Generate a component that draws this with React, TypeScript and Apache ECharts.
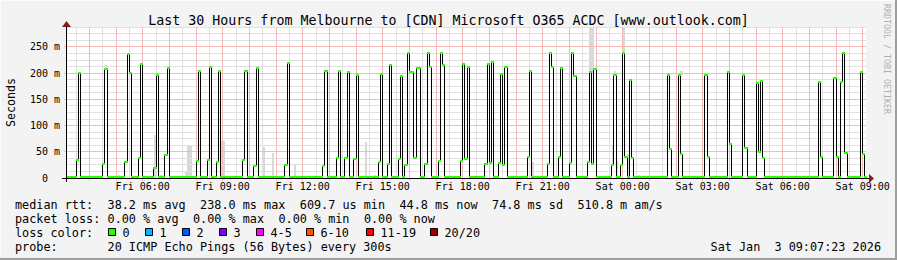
import React, { useEffect, useRef } from "react";
import * as echarts from "echarts";

// ---------- data ----------
const TITLE = "Last 30 Hours from Melbourne to [CDN] Microsoft O365 ACDC [www.outlook.com]";
const RANGE_START = "Fri 03:07:23";
const RANGE_END = "Sat 09:07:23";
const FIRST_STEP = "Fri 03:10";
const STEP_MINUTES = 5;
const STEP_COUNT = 360;
const BASELINE_MS = 1; // median between the spikes (ms)

const X_LABELS = ["Fri 06:00", "Fri 09:00", "Fri 12:00", "Fri 15:00", "Fri 18:00", "Fri 21:00", "Sat 00:00", "Sat 03:00", "Sat 06:00", "Sat 09:00"];
const Y_LABELS = [0, 50, 100, 150, 200, 250];
const Y_MAX = 288;

// start of each spike and the medians (ms) of its consecutive 5-minute steps
const spikeStarts = [
  "Fri 03:30", "Fri 04:30", "Fri 05:20", "Fri 05:50", "Fri 06:25", "Fri 06:50", "Fri 08:00", "Fri 08:25", "Fri 08:45", "Fri 09:45",
  "Fri 10:10", "Fri 11:20", "Fri 12:45", "Fri 13:15", "Fri 13:35", "Fri 13:55", "Fri 14:50", "Fri 15:10", "Fri 15:35", "Fri 15:50",
  "Fri 16:35", "Fri 17:05", "Fri 17:55", "Fri 18:50", "Fri 19:20", "Fri 20:25", "Fri 21:10", "Fri 21:35", "Fri 22:00", "Fri 22:40",
  "Fri 23:35", "Fri 23:55", "Sat 01:40", "Sat 02:05", "Sat 03:05", "Sat 03:55", "Sat 04:30", "Sat 05:00", "Sat 07:20", "Sat 07:55",
  "Sat 08:10", "Sat 08:55",
];
const spikeMedians = [
  [34, 201], [27, 207], [31, 237, 201], [38, 217], [19, 196], [43, 209], [32, 205], [35, 211], [30, 205], [34, 205],
  [22, 209], [25, 220], [22, 205], [39, 205], [39, 203], [37, 196], [30, 198], [26, 216], [36, 194], [25, 238, 202, 202, 39, 210, 210],
  [27, 238, 211], [33, 238, 215], [32, 218, 36, 211], [27, 217, 29, 221], [28, 198, 25, 211], [40, 205], [27, 238, 211], [40, 209], [29, 238, 194], [30, 202, 27, 207],
  [24, 196], [24, 238, 40, 1, 186, 39], [196, 55], [196, 46], [196, 41], [203, 64], [196, 58], [181, 49, 185, 39], [183, 41], [191, 41],
  [184, 238, 47], [203, 45],
];

// grey "smoke" (spread of the individual pings)
const smokeStarts = [
  "Fri 04:35", "Fri 05:05", "Fri 06:25", "Fri 06:40", "Fri 07:35", "Fri 07:40", "Fri 08:55", "Fri 10:30", "Fri 10:50", "Fri 11:40",
  "Fri 14:20", "Fri 14:40", "Fri 20:35", "Fri 22:45", "Fri 23:35", "Fri 23:40", "Fri 23:45", "Sat 00:00", "Sat 00:10", "Sat 00:35",
  "Sat 02:10", "Sat 04:10", "Sat 08:35",
];
const smokeSteps = [1, 1, 1, 1, 3, 2, 2, 1, 1, 1, 1, 1, 1, 2, 1, 1, 1, 1, 1, 1, 1, 1, 1];
const smokeLow = [207, 0, 0, 0, 0, 0, 0, 0, 0, 0, 0, 0, 0, 200, 24, 196, 0, 238, 0, 0, 196, 0, 0];
const smokeHigh = [215, 6, 82, 6, 12, 61, 71, 60, 48, 24, 68, 6, 30, 288, 61, 205, 32, 288, 45, 5, 205, 4, 4];

// legend
const statsLine = ["median rtt:", "38.2 ms avg", "238.0 ms max", "609.7 us min", "44.8 ms now", "74.8 ms sd", "510.8 m am/s"];
const statsCols = [0, 13, 26, 40, 54, 67, 79];
const lossLine = ["packet loss:", "0.00 % avg", "0.00 % max", "0.00 % min", "0.00 % now"];
const lossCols = [0, 13, 25, 37, 49];
const lossLabels = ["0", "1", "2", "3", "4-5", "6-10", "11-19", "20/20"];
const lossColors = ["#26ff00", "#00b8ff", "#0059ff", "#7e00ff", "#ff00ff", "#ff5500", "#ff0000", "#a00000"];
const lossBoxX = [108.5, 145.5, 182.5, 219.5, 256.5, 306.5, 366.5, 430.5];
const probeText = "20 ICMP Echo Pings (56 Bytes) every 300s";
const stampText = "Sat Jan  3 09:07:23 2026";

// ---------- helpers ----------
const DAY: Record<string, number> = { Fri: 0, Sat: 1440 };
function toMin(s: string): number {
  const [d, hms] = s.split(" ");
  const [h, m, sec] = hms.split(":").map(Number);
  return DAY[d] + h * 60 + m + (sec || 0) / 60;
}
const pad = (n: number) => (n < 10 ? "0" + n : "" + n);
function fmtTick(v: number): string {
  const day = v < 1440 ? "Fri" : "Sat";
  const mm = Math.round(v) % 1440;
  return day + " " + pad(Math.floor(mm / 60)) + ":" + pad(mm % 60);
}

const X_MIN = toMin(RANGE_START);
const X_MAX = toMin(RANGE_END);
const T0 = toMin(FIRST_STEP);

const medians: number[] = new Array(STEP_COUNT).fill(BASELINE_MS);
spikeStarts.forEach((s, i) => {
  const k = Math.round((toMin(s) - T0) / STEP_MINUTES);
  spikeMedians[i].forEach((v, j) => { if (k + j < STEP_COUNT) medians[k + j] = v; });
});

// step segments [tStart, tEnd, value]
const segs: number[][] = [[X_MIN, T0, BASELINE_MS]];
medians.forEach((v, k) => {
  const a = T0 + k * STEP_MINUTES;
  const b = Math.min(a + STEP_MINUTES, X_MAX);
  if (a < X_MAX) segs.push([a, b, v]);
});
const runs: number[][] = [];
segs.forEach((s) => {
  const last = runs[runs.length - 1];
  if (last && last[2] === s[2] && Math.abs(last[1] - s[0]) < 1e-6) last[1] = s[1];
  else runs.push([s[0], s[1], s[2]]);
});
const smokeData = smokeStarts.map((s, i) => {
  const a = toMin(s);
  return [a, a + smokeSteps[i] * STEP_MINUTES, smokeLow[i], smokeHigh[i]];
});

// grid line positions (axis minor/major grid)
const vGrid: number[] = [];
for (let t = Math.ceil(X_MIN / 30) * 30; t <= X_MAX; t += 30) vGrid.push(t);
const hGrid: number[] = [];
for (let v = 12.5; v <= Y_MAX; v += 12.5) hGrid.push(v);

const MONO = "'DejaVu Sans Mono', monospace";
const GRID = { left: 66, top: 27, width: 800, height: 151 };
const CH = 7.12; // legend character width
const snap = (x: number) => Math.round(x - 0.5) + 0.5;
const MAJOR = "#f6b9b9";
const MINOR = "#e0e0e0";

export default function App() {
  const ref = useRef<HTMLDivElement>(null);
  useEffect(() => {
    const chart = echarts.init(ref.current!, null, { renderer: "svg" });
    const legendY = [204.5, 218.5, 232.5, 246.5];
    const font = `11.8px ${MONO}`;
    const graphics: any[] = [];
    statsLine.forEach((t, i) => graphics.push({ type: "text", x: 15 + statsCols[i] * CH, y: legendY[0], style: { text: t, font, fill: "#000", verticalAlign: "middle" } }));
    lossLine.forEach((t, i) => graphics.push({ type: "text", x: 15 + lossCols[i] * CH, y: legendY[1], style: { text: t, font, fill: "#000", verticalAlign: "middle" } }));
    graphics.push({ type: "text", x: 15, y: legendY[2], style: { text: "loss color:", font, fill: "#000", verticalAlign: "middle" } });
    lossLabels.forEach((t, i) => {
      graphics.push({ type: "rect", shape: { x: lossBoxX[i], y: 228.5, width: 7, height: 7 }, style: { fill: lossColors[i], stroke: "#000", lineWidth: 1 } });
      graphics.push({ type: "text", x: lossBoxX[i] + 14, y: legendY[2], style: { text: t, font, fill: "#000", verticalAlign: "middle" } });
    });
    graphics.push({ type: "text", x: 15, y: legendY[3], style: { text: "probe:", font, fill: "#000", verticalAlign: "middle" } });
    graphics.push({ type: "text", x: 15 + 13 * CH, y: legendY[3], style: { text: probeText, font, fill: "#000", verticalAlign: "middle" } });
    graphics.push({ type: "text", x: 881, y: legendY[3], style: { text: stampText, font, fill: "#000", align: "right", verticalAlign: "middle" } });
    graphics.push({ type: "text", x: 11, y: 102.5, rotation: Math.PI / 2, style: { text: "Seconds", font: `11.6px ${MONO}`, fill: "#000", align: "center", verticalAlign: "middle" } });
    graphics.push({ type: "text", x: 887, y: 59, rotation: -Math.PI / 2, style: { text: "RRDTOOL / TOBI OETIKER", font: `8.3px ${MONO}`, fill: "#b0b0b0", align: "center", verticalAlign: "middle" } });
    // arrows and axis lines
    graphics.push({ type: "polygon", z: 10, shape: { points: [[869, 174], [874, 178.5], [869, 183]] }, style: { fill: "#8b1a1a" } });
    graphics.push({ type: "polygon", z: 10, shape: { points: [[62, 27], [66.5, 21], [71, 27]] }, style: { fill: "#8b1a1a" } });
    graphics.push({ type: "line", z: 10, shape: { x1: 62, y1: 178.5, x2: 869, y2: 178.5 }, style: { stroke: "#000", lineWidth: 1 } });
    graphics.push({ type: "line", z: 10, shape: { x1: 66.5, y1: 26, x2: 66.5, y2: 182 }, style: { stroke: "#000", lineWidth: 1 } });
    // frame
    graphics.push({ type: "rect", shape: { x: 0, y: 0, width: 897, height: 1 }, style: { fill: "#fcfcfc" } });
    graphics.push({ type: "rect", shape: { x: 0, y: 0, width: 1, height: 260 }, style: { fill: "#fcfcfc" } });
    graphics.push({ type: "rect", shape: { x: 0, y: 258, width: 897, height: 2 }, style: { fill: "#9e9e9e" } });
    graphics.push({ type: "rect", shape: { x: 895, y: 0, width: 2, height: 260 }, style: { fill: "#9e9e9e" } });

    chart.setOption({
      animation: false,
      backgroundColor: "#f3f3f3",
      title: { text: TITLE, left: "center", top: 9, textStyle: { fontFamily: MONO, fontSize: 13.3, fontWeight: "normal", color: "#000" } },
      grid: { ...GRID, show: true, backgroundColor: "#ffffff", borderWidth: 0, z: 0 },
      xAxis: {
        type: "value", min: X_MIN, max: X_MAX,
        axisLine: { show: false }, axisTick: { show: false }, splitLine: { show: false },
        axisLabel: { customValues: X_LABELS.map(toMin), formatter: (v: number) => fmtTick(v), fontFamily: MONO, fontSize: 10, color: "#000", margin: 3 },
      },
      yAxis: {
        type: "value", min: 0, max: Y_MAX,
        axisLine: { show: false }, axisTick: { show: false }, splitLine: { show: false },
        axisLabel: { customValues: Y_LABELS, formatter: (v: number) => (v === 0 ? "0\u00a0\u00a0" : v + " m"), fontFamily: MONO, fontSize: 10, color: "#000", margin: 6 },
      },
      graphic: graphics,
      series: [
        {
          type: "custom", name: "grid", silent: true, z: 2, data: [[X_MIN, 0]],
          renderItem: (p: any, api: any) => {
            const children: any[] = [];
            hGrid.forEach((v) => {
              const major = v % 50 === 0;
              const y = snap(api.coord([X_MIN, v])[1]);
              children.push({ type: "line", z2: major ? 2 : 1, shape: { x1: GRID.left - (major ? 2 : 0), y1: y, x2: GRID.left + GRID.width, y2: y }, style: { stroke: major ? MAJOR : MINOR, lineWidth: 1 } });
            });
            vGrid.forEach((t) => {
              const major = t % 60 === 0;
              const x = snap(api.coord([t, 0])[0]);
              children.push({ type: "line", z2: major ? 2 : 1, shape: { x1: x, y1: GRID.top, x2: x, y2: GRID.top + GRID.height + (major ? 3 : 0) }, style: { stroke: major ? MAJOR : MINOR, lineWidth: 1 } });
            });
            return { type: "group", children };
          },
        },
        {
          type: "custom", name: "smoke", silent: true, z: 2, data: smokeData,
          renderItem: (p: any, api: any) => {
            const a = api.coord([api.value(0), api.value(3)]);
            const b = api.coord([api.value(1), api.value(2)]);
            const x0 = Math.round(a[0]), x1 = Math.round(b[0]);
            const y0 = Math.round(a[1]), y1 = Math.round(b[1]);
            return { type: "rect", shape: { x: x0, y: y0, width: Math.max(1, x1 - x0), height: Math.max(1, y1 - y0) }, style: { fill: "#d8d8d8" } };
          },
        },
        {
          type: "custom", name: "median", silent: true, z: 3, data: [[X_MIN, 0]],
          renderItem: (p: any, api: any) => {
            const pts: number[][] = [];
            runs.forEach((r) => {
              const a = api.coord([r[0], r[2]]); const b = api.coord([r[1], r[2]]);
              pts.push([snap(a[0]), snap(a[1])], [snap(b[0]), snap(b[1])]);
            });
            return { type: "polyline", shape: { points: pts }, style: { stroke: "#000", lineWidth: 1, fill: "none" } };
          },
        },
        {
          type: "custom", name: "median loss colour", silent: true, z: 4, data: [[X_MIN, 0]],
          renderItem: (p: any, api: any) => {
            const children = runs.map((r) => {
              const a = api.coord([r[0], r[2]]); const b = api.coord([r[1], r[2]]);
              const y = Math.round(a[1]);
              return { type: "line", shape: { x1: snap(a[0]) - 0.5, y1: y, x2: snap(b[0]) + 0.5, y2: y }, style: { stroke: lossColors[0], lineWidth: 2 } };
            });
            return { type: "group", children };
          },
        },
      ],
    });
    return () => chart.dispose();
  }, []);
  return <div ref={ref} style={{ position: "fixed", left: 0, top: 0, width: 897, height: 260 }} />;
}
